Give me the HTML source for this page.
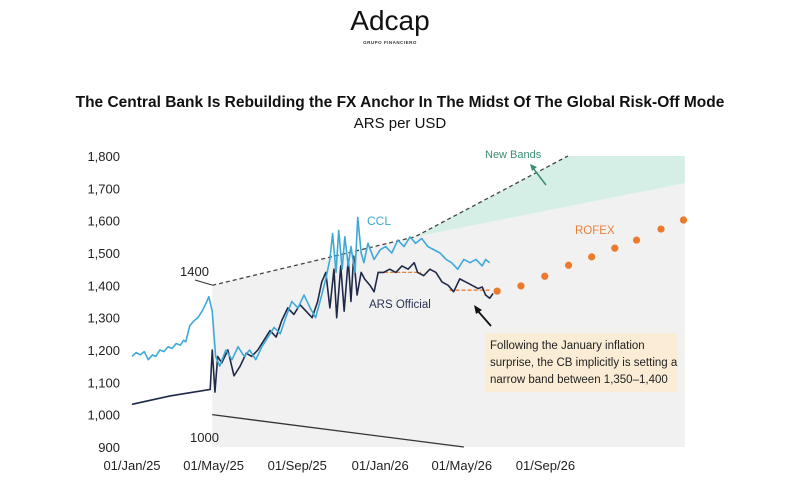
<!DOCTYPE html>
<html><head><meta charset="utf-8"><style>
html,body{margin:0;padding:0;background:#fff;}
body{width:800px;height:489px;overflow:hidden;font-family:"Liberation Sans",sans-serif;}
</style></head><body>
<svg id="chart" width="800" height="489" viewBox="0 0 800 489" xmlns="http://www.w3.org/2000/svg">
<text x="390" y="30" text-anchor="middle" font-size="28" fill="#111" font-family="Liberation Sans, sans-serif">Adcap</text>
<text x="390" y="44" text-anchor="middle" font-size="4.5" font-weight="bold" fill="#333" letter-spacing="0.5">GRUPO FINANCIERO</text>
<text x="400" y="107" text-anchor="middle" font-size="15.5" font-weight="bold" fill="#111">The Central Bank Is Rebuilding the FX Anchor In The Midst Of The Global Risk-Off Mode</text>
<text x="400" y="128" text-anchor="middle" font-size="15" fill="#111">ARS per USD</text>
<g id="bands"></g>
<g id="axes"></g>
<g id="series"></g>
<g id="notes">
<text x="180" y="276" font-size="13" fill="#222">1400</text>
<line x1="195" y1="280" x2="212" y2="285" stroke="#333" stroke-width="1"/>
<text x="190" y="442" font-size="13" fill="#222">1000</text>
<text x="485" y="158" font-size="11" fill="#3d8f72">New Bands</text>
<line x1="546" y1="185" x2="533" y2="168" stroke="#3d8f72" stroke-width="1.5"/>
<polygon points="530,164 537,167 532,171" fill="#3d8f72"/>
<text x="367" y="225" font-size="12" fill="#3fa9d6">CCL</text>
<text x="575" y="234" font-size="11.5" fill="#e8803a">ROFEX</text>
<text x="369" y="308" font-size="11.5" fill="#2a3455">ARS Official</text>
<line x1="491" y1="326" x2="477" y2="310" stroke="#111" stroke-width="1.8"/>
<polygon points="474,305 482,310 476,314" fill="#111"/>
<rect x="485" y="333" width="192" height="59" fill="#fbecd6"/>
<text font-size="11.5" fill="#222">
<tspan x="490" y="349">Following the January inflation</tspan>
<tspan x="490" y="366">surprise, the CB implicitly is setting a</tspan>
<tspan x="490" y="383">narrow band between 1,350–1,400</tspan>
</text>
</g>
</svg>
<script>
const yTicks=[900,1000,1100,1200,1300,1400,1500,1600,1700,1800];
const xTickLabels=["01/Jan/25","01/May/25","01/Sep/25","01/Jan/26","01/May/26","01/Sep/26"];
const xTickDays=[0,120,243,365,485,608];
const cclDays=[0,6,12,18,24,30,35,41,47,53,59,65,71,76,79,85,91,97,103,109,113,118,123,129,138,147,156,165,173,182,191,200,209,218,226,235,244,253,262,270,279,285,291,295,300,304,309,313,318,322,328,332,337,341,347,356,365,373,382,391,400,409,417,426,435,444,453,462,470,479,488,497,506,515,520,526];
const cclValues=[1180,1192,1185,1195,1170,1185,1180,1200,1195,1210,1205,1220,1215,1230,1225,1275,1290,1300,1320,1345,1365,1320,1180,1150,1200,1170,1210,1180,1200,1170,1210,1240,1270,1250,1300,1350,1330,1370,1330,1300,1370,1420,1480,1560,1440,1570,1450,1550,1460,1520,1440,1610,1500,1470,1530,1480,1510,1520,1500,1540,1520,1550,1530,1545,1520,1510,1500,1480,1470,1450,1480,1470,1480,1460,1480,1470,1455];
const offDays=[0,56,115,118,122,126,132,141,150,159,168,176,185,194,203,212,220,229,238,247,256,265,273,279,285,291,297,301,307,312,318,322,326,331,337,342,350,356,362,370,379,388,397,406,415,420,429,438,447,456,465,473,482,491,500,509,515,520,526,531];
const offValues=[1032,1058,1078,1200,1070,1180,1160,1200,1120,1150,1190,1180,1200,1230,1260,1240,1290,1330,1310,1340,1320,1300,1350,1410,1440,1330,1450,1300,1460,1320,1480,1350,1490,1370,1440,1420,1400,1380,1440,1440,1450,1440,1460,1450,1470,1440,1430,1450,1440,1410,1400,1380,1420,1410,1400,1390,1395,1370,1360,1375];
const rofexDays=[537,572,607,642,676,710,742,778,811];
const rofexValues=[1382,1398,1428,1462,1488,1515,1540,1574,1602];
const upperBandDays=[118,416,641,813];
const upperBandValues=[1400,1550,1800,1800];
const newBandLowerDays=[416,813];
const newBandLowerValues=[1550,1716];
const lowerBandDays=[118,488];
const lowerBandValues=[1000,900];
const plateauDays=[[362,425],[467,526]];
const plateauValues=[1440,1385];

const NS="http://www.w3.org/2000/svg";
const X=d=>132+d*0.68;
const Y=v=>447-(v-900)*(291/900);
function mk(tag,attrs,parent){const e=document.createElementNS(NS,tag);for(const k in attrs)e.setAttribute(k,attrs[k]);parent.appendChild(e);return e;}
const bands=document.getElementById('bands'),axes=document.getElementById('axes'),series=document.getElementById('series');
const endD=813;
let gp=[[upperBandDays[0],upperBandValues[0]],[upperBandDays[1],upperBandValues[1]],[newBandLowerDays[1],newBandLowerValues[1]],[endD,900],[upperBandDays[0],900]];
let g=mk('polygon',{points:gp.map(p=>X(p[0])+','+Y(p[1])).join(' '),fill:'#f1f1f1'},bands);


let gr=[[upperBandDays[1],upperBandValues[1]],[upperBandDays[2],upperBandValues[2]],[upperBandDays[3],upperBandValues[3]],[newBandLowerDays[1],newBandLowerValues[1]]];
let gn=mk('polygon',{points:gr.map(p=>X(p[0])+','+Y(p[1])).join(' '),fill:'#d5efe6'},bands);


let ub=mk('polyline',{points:upperBandDays.slice(0,3).map((d,i)=>X(d)+','+Y(upperBandValues[i])).join(' '),fill:'none',stroke:'#444','stroke-width':1.3,'stroke-dasharray':'4,3'},bands);


let lb=mk('polyline',{points:lowerBandDays.map((d,i)=>X(d)+','+Y(lowerBandValues[i])).join(' '),fill:'none',stroke:'#333','stroke-width':1.3},bands);


yTicks.forEach(v=>{const t=mk('text',{x:120,y:Y(v)+5,'text-anchor':'end','font-size':13,fill:'#222'},axes);t.textContent=v.toLocaleString('en-US');

});
xTickDays.forEach((d,i)=>{const t=mk('text',{x:X(d),y:470,'text-anchor':'middle','font-size':13,fill:'#222'},axes);t.textContent=xTickLabels[i];

});
plateauDays.forEach((p,i)=>{const l=mk('line',{x1:X(p[0]),x2:X(p[1]),y1:Y(plateauValues[i]),y2:Y(plateauValues[i]),stroke:'#e8803a','stroke-width':1.3,'stroke-dasharray':'4,2'},series);

});
let off=mk('polyline',{points:offDays.map((d,i)=>X(d)+','+Y(offValues[i])).join(' '),fill:'none',stroke:'#1f2a48','stroke-width':1.6,'stroke-linejoin':'round'},series);


let ccl=mk('polyline',{points:cclDays.map((d,i)=>X(d)+','+Y(cclValues[i])).join(' '),fill:'none',stroke:'#3fa9d6','stroke-width':1.6,'stroke-linejoin':'round'},series);


rofexDays.forEach((d,i)=>{const c=mk('circle',{cx:X(d),cy:Y(rofexValues[i]),r:3.6,fill:'#ec7a2c'},series);

});
</script>
</body></html>
